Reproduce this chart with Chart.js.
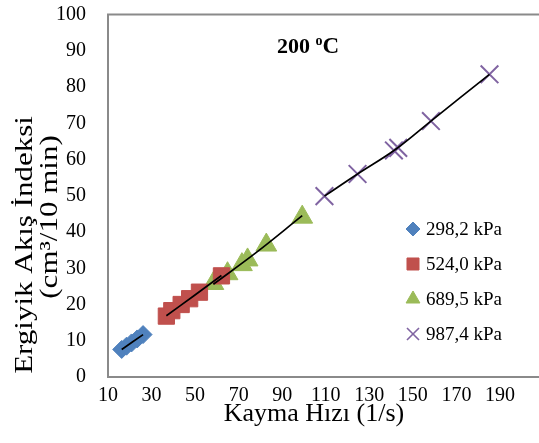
<!DOCTYPE html>
<html>
<head>
<meta charset="utf-8">
<script src="https://cdn.jsdelivr.net/npm/chart.js@4.4.1/dist/chart.umd.min.js"></script>
<style>
  html, body { margin: 0; padding: 0; background: #fff; overflow: hidden; }
  #chart { display: block; }
</style>
</head>
<body>
<canvas id="chart" width="558" height="443"></canvas>
<script>
const seriesLabels = ['298,2 kPa', '524,0 kPa', '689,5 kPa', '987,4 kPa'];

const blueX = [16.3, 18.5, 20.8, 23.4, 26.1];
const blueY = [7.6, 8.5, 9.4, 10.5, 11.7];

const redX = [36.8, 39.3, 43.6, 47.5, 52.0, 62.1];
const redY = [16.8, 18.3, 20.0, 21.6, 23.4, 27.9];

const greenX = [58.4, 64.9, 71.5, 74.1, 82.7, 99.2];
const greenY = [25.8, 28.5, 31.0, 32.3, 36.4, 44.1];

const purpleX = [109.4, 124.6, 141.3, 143.3, 158.3, 185.2];
const purpleY = [49.9, 56.0, 62.5, 63.2, 70.6, 83.5];

// trend lines (black), end points
const blueTrendX = [16.3, 26.1];
const blueTrendY = [7.6, 11.7];
const redTrendX = [36.8, 49.0, 62.1];
const redTrendY = [16.9, 22.2, 28.0];
const greenTrendX = [58.4, 78.0, 99.2];
const greenTrendY = [25.6, 34.3, 44.5];
const purpleTrendX = [109.4, 124.6, 142.3, 158.3, 185.2];
const purpleTrendY = [49.9, 56.0, 62.9, 70.6, 83.5];

const xTicks = [10, 30, 50, 70, 90, 110, 130, 150, 170, 190];
const yTicks = [0, 10, 20, 30, 40, 50, 60, 70, 80, 90, 100];

const colors = ['#4F81BD', '#C0504D', '#9BBB59', '#8064A2'];
const FONT = "'Liberation Serif', 'Times New Roman', serif";

function pts(xs, ys) {
    return xs.map((x, i) => ({ x: x, y: ys[i] }));
}

function trend(xs, ys) {
    return {
        data: pts(xs, ys),
        showLine: true,
        borderColor: '#000',
        borderWidth: 1.7,
        pointRadius: 0,
        tension: 0.4
    };
}

const markerStyles = [
    { pointStyle: 'rectRot', pointRadius: 9, borderWidth: 1 },
    { pointStyle: 'rect', pointRadius: 11.5, borderWidth: 1 },
    { pointStyle: 'triangle', pointRadius: 12, borderWidth: 1 },
    { pointStyle: 'crossRot', pointRadius: 12.5, borderWidth: 2 }
];

const markerData = [pts(blueX, blueY), pts(redX, redY), pts(greenX, greenY), pts(purpleX, purpleY)];

const markerSets = markerData.map((d, i) => ({
    label: seriesLabels[i],
    data: d,
    backgroundColor: colors[i],
    borderColor: colors[i],
    pointStyle: markerStyles[i].pointStyle,
    pointRadius: markerStyles[i].pointRadius,
    borderWidth: markerStyles[i].borderWidth,
    showLine: false
}));

// trend lines first so they are drawn on top of the markers
const datasets = [
    trend(blueTrendX, blueTrendY),
    trend(redTrendX, redTrendY),
    trend(greenTrendX, greenTrendY),
    trend(purpleTrendX, purpleTrendY)
].concat(markerSets);

// plot-area frame
const framePlugin = {
    id: 'frame',
    beforeDatasetsDraw(chart) {
        const a = chart.chartArea;
        const ctx = chart.ctx;
        ctx.save();
        ctx.strokeStyle = '#8a8a8a';
        ctx.lineWidth = 2;
        ctx.strokeRect(a.left, a.top, a.right - a.left, a.bottom - a.top);
        ctx.restore();
    }
};

// title, axis titles and legend
const textPlugin = {
    id: 'texts',
    afterDraw(chart) {
        const ctx = chart.ctx;
        ctx.save();
        ctx.fillStyle = '#000';

        // "200 oC" with raised o
        ctx.textBaseline = 'alphabetic';
        ctx.textAlign = 'left';
        ctx.font = 'bold 22px ' + FONT;
        let x = 277;
        ctx.fillText('200 ', x, 53);
        x += ctx.measureText('200 ').width;
        ctx.font = 'bold 14px ' + FONT;
        ctx.fillText('o', x, 45);
        x += ctx.measureText('o').width;
        ctx.font = 'bold 23px ' + FONT;
        ctx.fillText('C', x, 53);

        // x axis title
        ctx.font = '26px ' + FONT;
        ctx.textAlign = 'center';
        ctx.textBaseline = 'middle';
        ctx.fillText('Kayma Hızı (1/s)', 314, 414);

        // y axis title (the reference text is drawn longer than it is tall)
        ctx.font = '25px ' + FONT;
        ctx.save();
        ctx.translate(25, 245);
        ctx.rotate(-Math.PI / 2);
        ctx.scale(1.24, 1);
        ctx.fillText('Ergiyik Akış İndeksi', 0, 0);
        ctx.restore();
        ctx.save();
        ctx.translate(50, 217);
        ctx.rotate(-Math.PI / 2);
        ctx.scale(1.24, 1);
        ctx.fillText('(cm³/10 min)', 0, 0);
        ctx.restore();

        // legend
        const legendY = [229, 264, 299, 334];
        const legendR = [7, 8.5, 8, 8.5];
        markerSets.forEach((ds, i) => {
            ctx.fillStyle = ds.backgroundColor;
            ctx.strokeStyle = ds.borderColor;
            ctx.lineWidth = i === 3 ? 1.6 : 1;
            Chart.helpers.drawPoint(ctx, {
                pointStyle: ds.pointStyle,
                radius: legendR[i],
                rotation: 0,
                borderWidth: ctx.lineWidth
            }, 413, legendY[i]);
            ctx.fillStyle = '#000';
            ctx.font = '19px ' + FONT;
            ctx.textAlign = 'left';
            ctx.textBaseline = 'middle';
            ctx.fillText(ds.label, 426, legendY[i] + 1);
        });
        ctx.restore();
    }
};

new Chart(document.getElementById('chart'), {
    type: 'scatter',
    data: { datasets: datasets },
    options: {
        responsive: false,
        animation: false,
        devicePixelRatio: 1,
        layout: { padding: { top: 12, right: 4, left: 0, bottom: 0 } },
        plugins: {
            legend: { display: false },
            tooltip: { enabled: false }
        },
        scales: {
            x: {
                type: 'linear',
                min: 10,
                max: 210,
                afterFit: (scale) => {
                    scale.height = 66;
                    scale.paddingLeft = 0;
                    scale.paddingRight = 0;
                },
                afterBuildTicks: (scale) => { scale.ticks = xTicks.map(v => ({ value: v })); },
                grid: { display: false, drawTicks: false },
                border: { display: false },
                ticks: {
                    color: '#000',
                    padding: 7,
                    maxRotation: 0,
                    autoSkip: false,
                    font: { family: FONT, size: 20 }
                }
            },
            y: {
                type: 'linear',
                min: 0,
                max: 100,
                afterFit: (scale) => {
                    scale.width = 108;
                    scale.paddingTop = 0;
                    scale.paddingBottom = 0;
                },
                afterBuildTicks: (scale) => { scale.ticks = yTicks.map(v => ({ value: v })); },
                grid: { display: false, drawTicks: false },
                border: { display: false },
                ticks: {
                    color: '#000',
                    padding: 22,
                    font: { family: FONT, size: 20 }
                }
            }
        }
    },
    plugins: [framePlugin, textPlugin]
});
</script>
</body>
</html>
